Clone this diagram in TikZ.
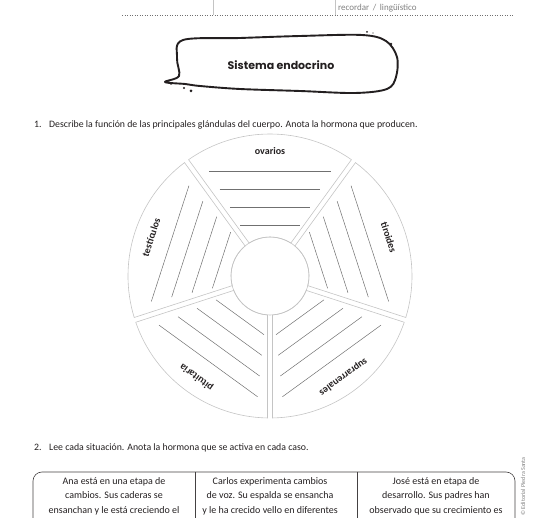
\documentclass[tikz,border=0pt]{standalone}
\usepackage{fontspec}
\setmainfont{Carlito}
\newfontfamily\titlefont{Poppins}
\usepackage{tikz}
\usetikzlibrary{calc,positioning}
\definecolor{inkgray}{HTML}{231F20}
\definecolor{rimgray}{HTML}{C4C4C4}
\definecolor{linegray}{HTML}{707070}
\tikzstyle{sector}    = [draw=rimgray, line width=0.6pt]
\tikzstyle{writeline} = [draw=linegray, line width=0.5pt]
\tikzstyle{glabel}    = [font=\fontsize{10}{11}\selectfont\bfseries, text=inkgray, inner sep=0pt]
\tikzstyle{instr}     = [font=\fontsize{9.8}{11}\selectfont, text=inkgray, anchor=base west, inner sep=0pt]
\tikzstyle{cell}      = [font=\fontsize{10}{14.6}\selectfont, text=inkgray, align=center, anchor=north, inner sep=0pt]

\begin{document}
\begin{tikzpicture}[x=1pt,y=1pt]
    \useasboundingbox (0,0) rectangle (550,-518);
    \clip (0,0) rectangle (550,-518);

    % header strip
    \draw[rimgray, line width=0.6pt] (213,0) -- (213,-15);
    \draw[rimgray, line width=0.6pt] (335,0) -- (335,-15);
    \draw[linegray, line width=0.5pt, dotted] (122,-15) -- (513,-15);
    \node[font=\fontsize{9}{10}\selectfont, text=gray, anchor=base west, inner sep=0pt] (skill) at (338,-11) {recordar \,/\, lingüístico};

    % title bubble
    \draw[inkgray, line width=1.9pt, line join=round]
        plot[smooth cycle, tension=0.55] coordinates {(183,-40) (240,-38) (300,-36) (362,-35) (386,-41) (397,-57) (396,-77) (387,-89) (355,-93) (300,-91) (240,-89) (200,-86) (185,-84) (165,-82) (179,-76) (177,-58)};
    \fill[inkgray] (367,-32) circle[radius=1pt] (373,-33) circle[radius=0.7pt] (391,-44) circle[radius=1.4pt]
        (184,-88) circle[radius=1.2pt] (191,-91) circle[radius=1.5pt] (171,-84) circle[radius=0.8pt];
    \node[font=\titlefont\bfseries\fontsize{11}{13}\selectfont, text=inkgray] (title) at (281,-65) {Sistema endocrino};

    % question 1
    \node[instr] (q1num) at (34,-128) {1.};
    \node[instr] (q1) at (49,-128) {Describe la función de las principales glándulas del cuerpo. Anota la hormona que producen.};

    % wheel
    \coordinate (c) at (270,-276);
    \foreach \t/\lbl in {90/ovarios, 18/tiroides, -54/suprarrenales, -126/pituitaria, 162/testículos} {
        \pgfmathsetmacro\ao{\t-36+1.01}
        \pgfmathsetmacro\bo{\t+36-1.01}
        \pgfmathsetmacro\ai{\t-36+3.67}
        \pgfmathsetmacro\bi{\t+36-3.67}
        \draw[sector] ([shift={(\ao:142)}]c) arc[start angle=\ao, end angle=\bo, radius=142pt]
            -- ([shift={(\bi:39)}]c) arc[start angle=\bi, end angle=\ai, radius=39pt] -- cycle;
        \foreach \d in {105,87,69,51} {
            \pgfmathsetmacro\h{0.58*\d}
            \pgfmathsetmacro\pa{\t+90}
            \pgfmathsetmacro\pb{\t-90}
            \draw[writeline] ([shift={(\t:\d)}]c) ++(\pa:\h) -- ++(\pb:2*\h);
        }
        \pgfmathsetmacro\rot{\t-90}
        \node[glabel, rotate=\rot] (\lbl) at ([shift={(\t:125)}]c) {\lbl};
    }
    \draw[sector] (c) circle[radius=39pt];

    % question 2
    \node[instr] (q2num) at (34,-451) {2.};
    \node[instr] (q2) at (49,-451) {Lee cada situación. Anota la hormona que se activa en cada caso.};

    % situations table
    \draw[inkgray!85, line width=0.6pt, rounded corners=9pt] (33,-600) rectangle (515,-472);
    \draw[inkgray!85, line width=0.6pt] (195,-472) -- (195,-600);
    \draw[inkgray!85, line width=0.6pt] (357,-472) -- (357,-600);
    \node[cell] (ana) at (114,-477) {Ana está en una etapa de\\cambios. Sus caderas se\\ensanchan y le está creciendo el};
    \node[cell] (carlos) at (270,-477) {Carlos experimenta cambios\\de voz. Su espalda se ensancha\\y le ha crecido vello en diferentes};
    \node[cell] (jose) at (436,-477) {José está en etapa de\\desarrollo. Sus padres han\\observado que su crecimiento es};

    \node[font=\fontsize{6}{7}\selectfont, text=gray, rotate=90, anchor=east, inner sep=0pt] (copy) at (523,-457) {© Editorial Piedra Santa};
\end{tikzpicture}
\end{document}
